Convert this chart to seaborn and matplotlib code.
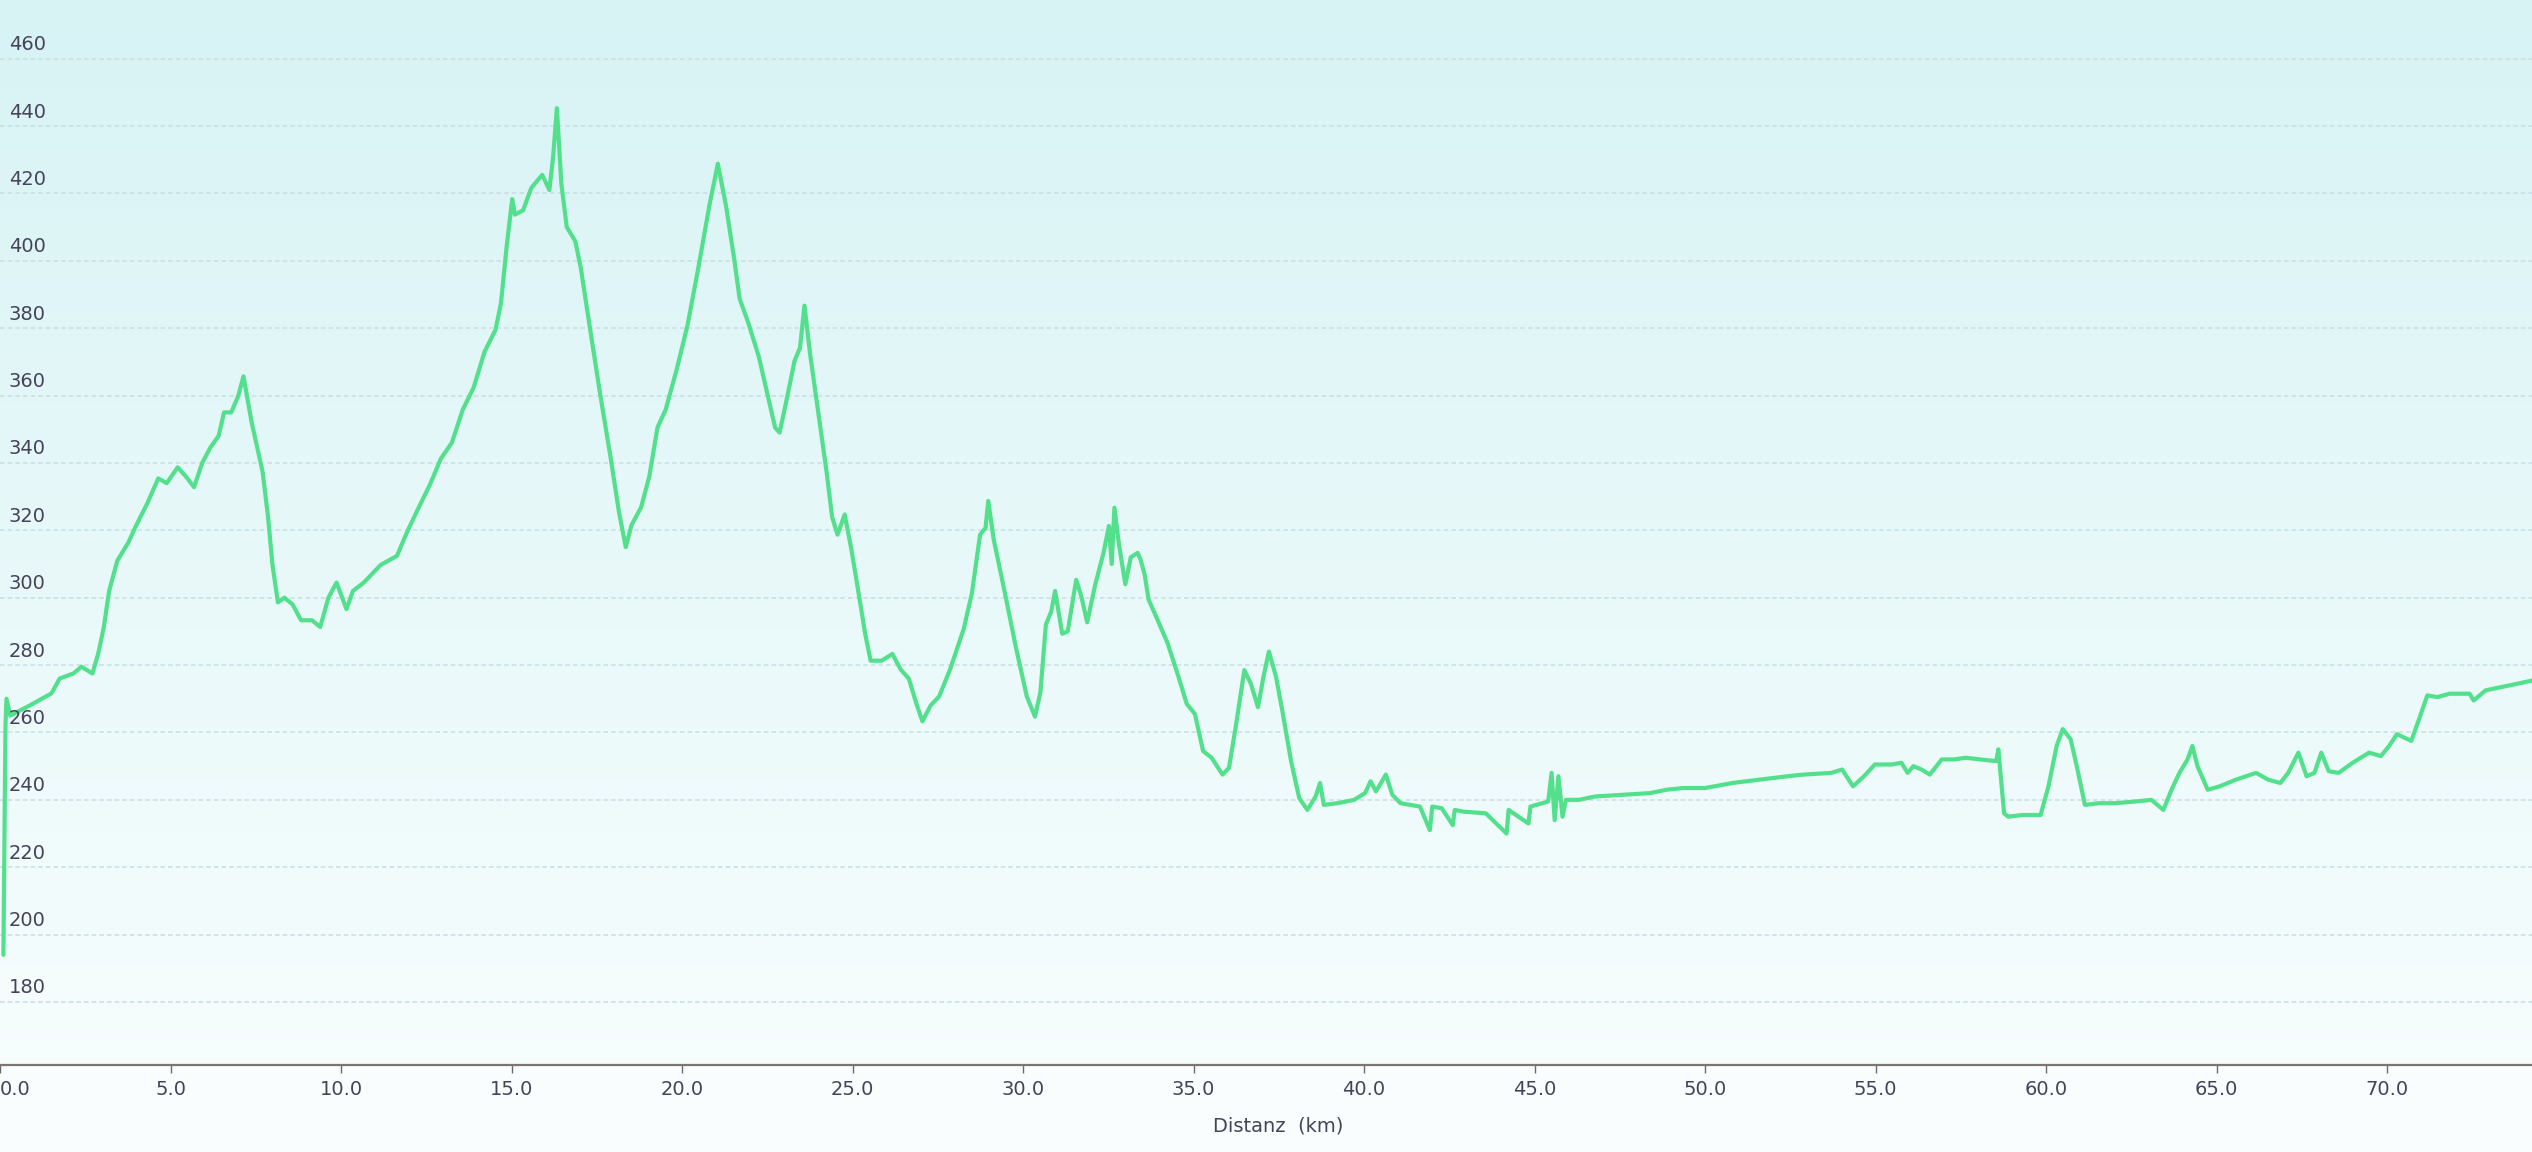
import numpy as np
import pandas as pd
import seaborn as sns
import matplotlib.pyplot as plt
from matplotlib.transforms import offset_copy

# elevation profile: distance (km) / elevation (m)
distance_km = [
    0.10, 0.16, 0.19, 0.30, 0.87, 1.51, 1.75, 2.15, 2.39, 2.71, 2.88, 3.04, 3.20, 3.44, 3.76,
    4.00, 4.32, 4.64, 4.89, 5.21, 5.45, 5.69, 5.93, 6.17, 6.41, 6.57, 6.78, 6.98, 7.14, 7.38,
    7.70, 7.86, 7.99, 8.15, 8.34, 8.58, 8.83, 9.15, 9.39, 9.63, 9.87, 10.16, 10.35, 10.67,
    11.16, 11.64, 11.96, 12.28, 12.60, 12.93, 13.25, 13.57, 13.89, 14.21, 14.53, 14.69, 14.86,
    15.02, 15.10, 15.34, 15.58, 15.90, 16.11, 16.22, 16.33, 16.46, 16.62, 16.87, 17.03, 17.27,
    17.59, 17.91, 18.15, 18.35, 18.52, 18.80, 19.04, 19.28, 19.52, 19.84, 20.16, 20.48, 20.80,
    21.05, 21.29, 21.53, 21.69, 21.93, 22.25, 22.49, 22.73, 22.86, 23.06, 23.30, 23.46, 23.59,
    23.76, 24.00, 24.24, 24.40, 24.56, 24.77, 24.96, 25.20, 25.37, 25.53, 25.85, 26.17, 26.41,
    26.65, 26.89, 27.05, 27.29, 27.54, 27.86, 28.26, 28.50, 28.74, 28.90, 28.98, 29.14, 29.47,
    29.79, 30.11, 30.35, 30.51, 30.67, 30.83, 30.94, 31.15, 31.31, 31.56, 31.72, 31.88, 32.12,
    32.36, 32.52, 32.60, 32.68, 32.81, 33.00, 33.16, 33.36, 33.44, 33.57, 33.68, 33.92, 34.24,
    34.56, 34.80, 35.04, 35.28, 35.53, 35.85, 36.04, 36.25, 36.49, 36.68, 36.89, 37.05, 37.21,
    37.42, 37.62, 37.86, 38.10, 38.34, 38.58, 38.71, 38.82, 39.22, 39.71, 40.03, 40.19, 40.35,
    40.64, 40.83, 41.07, 41.64, 41.93, 42.00, 42.28, 42.60, 42.66, 42.92, 43.57, 44.18, 44.24,
    44.82, 44.88, 45.40, 45.50, 45.59, 45.70, 45.82, 45.92, 46.30, 46.78, 47.59, 48.39, 48.87,
    49.36, 50.00, 50.80, 51.61, 52.41, 52.89, 53.70, 54.02, 54.34, 54.66, 54.98, 55.47,
    55.76, 55.94, 56.11, 56.35, 56.59, 56.94, 57.30, 57.65, 58.06, 58.54, 58.60, 58.77, 58.89,
    59.30, 59.84, 60.07, 60.31, 60.49, 60.72, 60.90, 61.14, 61.55, 62.02, 62.61, 63.09, 63.44,
    63.68, 63.91, 64.15, 64.29, 64.44, 64.74, 65.09, 65.57, 66.16, 66.51, 66.87, 67.10, 67.40,
    67.64, 67.87, 68.07, 68.29, 68.58, 68.99, 69.47, 69.82, 70.06, 70.29, 70.71, 70.94, 71.18,
    71.48, 71.83, 72.07, 72.42, 72.54, 72.89, 73.37, 73.84, 74.29,
]
elevation_m = [
    194, 262, 270, 265, 268, 271.6, 276, 277.5, 279.5, 277.5, 283.4, 291, 302, 311, 316.3,
    321.6, 328, 335.4, 334, 338.7, 336, 332.8, 340, 344.6, 348, 355, 355, 359.7, 365.7, 352,
    337.4, 324, 309.7, 298.6, 300, 298, 293.3, 293.3, 291.3, 300, 304.5, 296.6, 302, 304.5,
    309.7, 312.4, 320, 326.8, 333.4, 341.3, 346, 355.8, 362.4, 373, 379.5, 387.4, 404.5,
    418.3, 413.7, 415, 421.6, 425.5, 421, 430.8, 445.3, 423, 410, 405.8, 398, 382,
    361, 341.3, 325.5, 315, 321.6, 326.8, 336, 350.5, 355.8, 367.6, 380.8, 398, 416.3,
    428.8, 416.3, 400.5, 388.7, 382, 371.6, 361, 350.5, 349, 358.4, 370.3, 374.2, 386.7,
    372, 354.7, 337.3, 324, 318.7, 324.7, 314.7, 300, 289.3, 281.3, 281.3, 283.3, 278.7,
    276, 268, 263.3, 268, 270.7, 278.7, 290.7, 301.3, 318.7, 320.7, 328.7, 317.3, 301.3,
    285.3, 270.7, 264.7, 272, 292, 296, 302, 289.3, 290, 305.3, 300, 292.7, 304,
    313.3, 321.3, 310, 326.7, 316, 304, 312, 313.3, 311.5, 306.7, 299.5, 294, 286.5,
    276.5, 268.5, 265.5, 254.5, 252.5, 247.5, 249.5, 262.5, 278.5, 274.5, 267.5, 276.5, 284,
    276.5, 265.5, 251.5, 240.5, 237, 241, 245, 238.5, 239, 240, 242, 245.5, 242.5,
    247.5, 241.5, 239, 238, 231, 238, 237.5, 232.5, 237, 236.5, 236, 230, 237,
    233, 238, 239.5, 248, 234, 247, 235, 240, 240, 241, 241.5, 242, 243,
    243.5, 243.5, 245, 246, 247, 247.5, 248, 249, 244, 247, 250.5, 250.5,
    251, 248, 250, 249, 247.5, 252, 252, 252.5, 252, 251.5, 255, 236, 235,
    235.5, 235.5, 244, 256, 261, 258, 250, 238.5, 239, 239, 239.5, 240, 237,
    243, 248, 252, 256, 250, 243, 244, 246, 248, 246, 245, 248, 254,
    247, 248, 254, 248.5, 248, 251, 254, 253, 256, 259.5, 257.5, 264, 271,
    270.5, 271.5, 271.5, 271.5, 269.5, 272.5, 273.5, 274.5, 275.5,
]

y_ticks = [180, 200, 220, 240, 260, 280, 300, 320, 340, 360, 380, 400, 420, 440, 460]
x_ticks = [0, 5, 10, 15, 20, 25, 30, 35, 40, 45, 50, 55, 60, 65, 70]
x_tick_labels = ['0.0', '5.0', '10.0', '15.0', '20.0', '25.0', '30.0', '35.0',
                 '40.0', '45.0', '50.0', '55.0', '60.0', '65.0', '70.0']
x_label = 'Distanz  (km)'

sns.set_style('white')
plt.rcParams['font.family'] = ['DejaVu Sans']

W, H = 2532, 1152
axis_px = 1065  # y pixel of the x axis line
fig = plt.figure(figsize=(W / 100, H / 100), dpi=100, facecolor='#f9fdfd')
ax = fig.add_axes([0, 1 - axis_px / H, 1, axis_px / H])

# pale cyan wash, darker at the top
top = np.array([0.845, 0.953, 0.96])
bottom = np.array([0.968, 0.993, 0.993])
t = np.linspace(0, 1, 256).reshape(-1, 1, 1)
wash = top + (bottom - top) * t
ax.imshow(wash, extent=[0, 1, 0, 1], transform=ax.transAxes, aspect='auto', zorder=0)

df = pd.DataFrame({'km': distance_km, 'elev': elevation_m})
sns.lineplot(data=df, x='km', y='elev', ax=ax, color='#52e08c', linewidth=3.0,
             estimator=None, sort=False, zorder=3)

ax.set_xlim(0, 74.25)
ax.set_ylim(161.3, 477.4)

# horizontal grid
ax.set_yticks(y_ticks)
ax.set_yticklabels([])
ax.tick_params(axis='y', length=0)
ax.set_axisbelow(True)
ax.grid(axis='y', color='#c6dfe4', linewidth=1.1, linestyle=(0, (3, 2)))
ax.grid(axis='x', visible=False)

# y labels sit inside the plot, just above their grid line
ylab = offset_copy(ax.get_yaxis_transform(), fig=fig, x=9, y=14, units='dots')
for v in y_ticks:
    ax.text(0, v, str(v), transform=ylab, ha='left', va='center',
            fontsize=14, color='#45435a', zorder=4)

ax.set_xticks(x_ticks)
ax.set_xticklabels(x_tick_labels)
ax.tick_params(axis='x', direction='out', length=6, width=1.0, color='#6e6a68',
               pad=5, labelsize=14, labelcolor='#45435a', bottom=True)
ax.get_xticklabels()[0].set_horizontalalignment('left')

for s in ['left', 'top', 'right']:
    ax.spines[s].set_visible(False)
ax.spines['bottom'].set_color('#7c7672')
ax.spines['bottom'].set_linewidth(1.6)

ax.set_ylabel('')
ax.set_xlabel(x_label, fontsize=14, color='#45435a', va='center')
ax.xaxis.set_label_coords(0.505, -0.057)

fig.savefig('out.png', dpi=100, facecolor=fig.get_facecolor())
